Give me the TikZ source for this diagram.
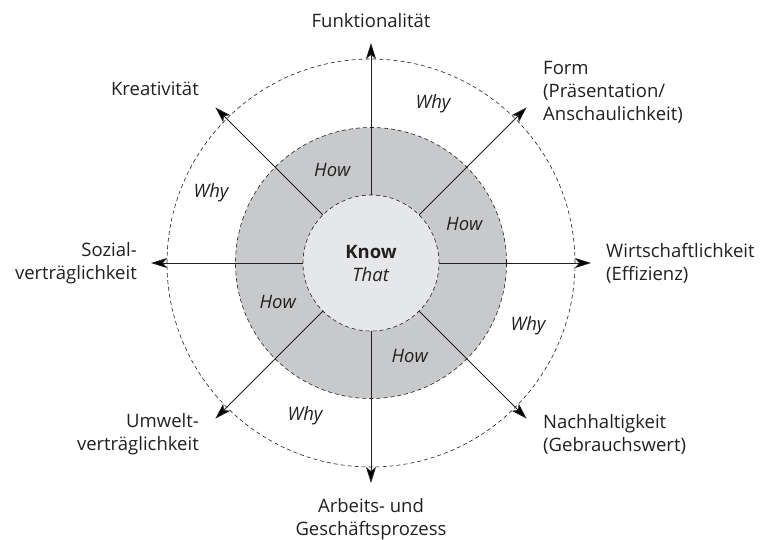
\documentclass[tikz,border=0pt]{standalone}
\usepackage{fontspec}
\setmainfont{Open Sans}
\usetikzlibrary{arrows.meta}
\definecolor{ringgray}{RGB}{200,201,203}
\definecolor{coregray}{RGB}{230,231,233}
\definecolor{inkgray}{RGB}{35,31,32}

\begin{document}
\begin{tikzpicture}[x=1pt,y=1pt,>={Stealth[length=16pt,width=10pt,inset=4pt]},
        lbl/.style={font=\fontsize{18.5}{23}\selectfont, text=inkgray, inner sep=0pt},
        wlbl/.style={lbl, font=\fontsize{18.5}{23}\selectfont\itshape},
        zone/.style={circle, draw=inkgray, line width=0.6pt, dash pattern=on 4pt off 3pt, inner sep=0pt},
        axis/.style={line width=0.8pt, draw=inkgray}]
        \useasboundingbox (-371,-276) rectangle (396,263);

        \node at (0,0) [zone, minimum size=408pt] (outer) {};
        \node at (0,0) [zone, fill=ringgray, minimum size=271pt] (ring) {};
        \node at (0,0) [zone, fill=coregray, minimum size=136pt, lbl, align=center] (know) {\textbf{Know}\\\textit{That}};

        \coordinate (tipN)  at (90:220);
        \coordinate (tipNE) at (45:220);
        \coordinate (tipE)  at (0:220);
        \coordinate (tipSE) at (-45:220);
        \coordinate (tipS)  at (-90:220);
        \coordinate (tipSW) at (-135:220);
        \coordinate (tipW)  at (180:220);
        \coordinate (tipNW) at (135:220);

        \draw[axis] (know.90)   edge[->] (tipN)
                    (know.45)   edge[->] (tipNE)
                    (know.0)    edge[->] (tipE)
                    (know.-45)  edge[->] (tipSE)
                    (know.-90)  edge[->] (tipS)
                    (know.-135) edge[->] (tipSW)
                    (know.180)  edge[->] (tipW)
                    (know.135)  edge[->] (tipNW);

        \node at (0,242) [lbl] (funktion) {Funktionalität};
        \node at (172,171) [lbl, anchor=west, align=left] (form) {Form\\(Präsentation/\\Anschaulichkeit)};
        \node at (235,0) [lbl, anchor=west, align=left] (wirtschaft) {Wirtschaftlichkeit\\(Effizienz)};
        \node at (172,-171) [lbl, anchor=west, align=left] (nachhalt) {Nachhaltigkeit\\(Gebrauchswert)};
        \node at (0,-256) [lbl, align=center] (arbeit) {Arbeits- und\\Geschäftsprozess};
        \node at (-172,-171) [lbl, anchor=east, align=right] (umwelt) {Umwelt-\\verträglichkeit};
        \node at (-234,0) [lbl, anchor=east, align=right] (sozial) {Sozial-\\verträglichkeit};
        \node at (-172,174) [lbl, anchor=east] (kreativ) {Kreativität};

        \node at (112.5:101) [wlbl] (how1) {How};
        \node at (22.5:101)  [wlbl] (how2) {How};
        \node at (202.5:101) [wlbl] (how3) {How};
        \node at (292.5:101) [wlbl] (how4) {How};

        \node at (62,159)   [wlbl] (why1) {Why};
        \node at (-160,70)  [wlbl] (why2) {Why};
        \node at (157,-63)  [wlbl] (why3) {Why};
        \node at (-66,-153) [wlbl] (why4) {Why};
\end{tikzpicture}
\end{document}
